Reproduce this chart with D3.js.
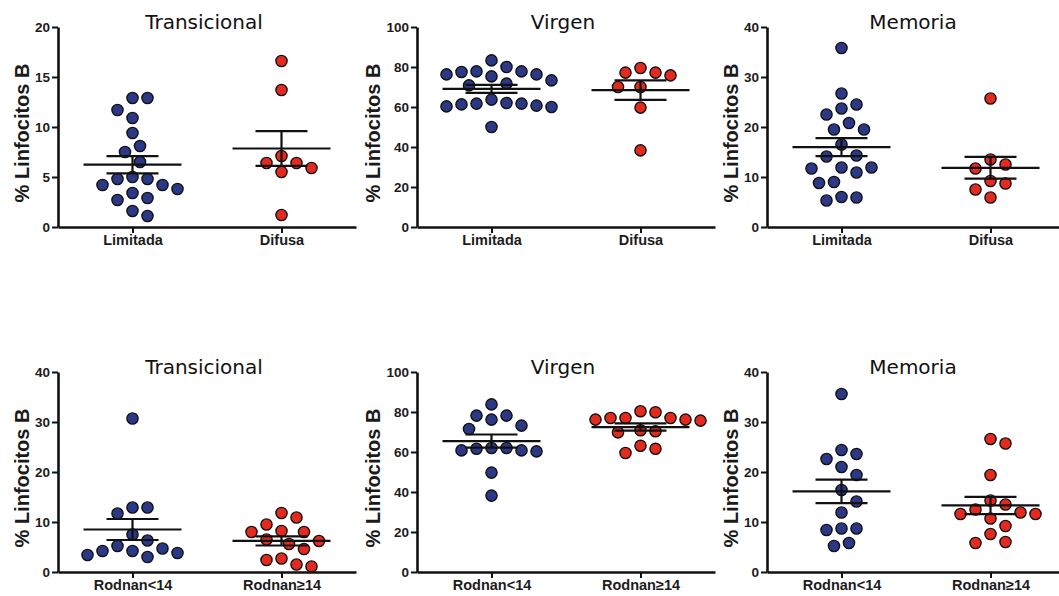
<!DOCTYPE html>
<html>
<head>
<meta charset="utf-8">
<script src="https://cdn.jsdelivr.net/npm/d3@7"></script>
<style>
  body { margin: 0; background: #fff; }
  svg { display: block; }
  .tick text { font-family: "Liberation Sans", Arial, sans-serif; font-weight: bold; fill: #1c1c1c; }
</style>
</head>
<body>
<svg width="1059" height="596"></svg>
<script>
// --- data (% Linfocitos B) ---
var titles = ["Transicional", "Virgen", "Memoria"];
var topGroups = ["Limitada", "Difusa"];
var bottomGroups = ["Rodnan<14", "Rodnan\u226514"];
var topMax = [20, 100, 40];
var bottomMax = [40, 100, 40];
var topTicks = [[0, 5, 10, 15, 20], [0, 20, 40, 60, 80, 100], [0, 10, 20, 30, 40]];
var bottomTicks = [[0, 10, 20, 30, 40], [0, 20, 40, 60, 80, 100], [0, 10, 20, 30, 40]];

var transLimitada = [12.9, 12.9, 11.7, 10.9, 9.4, 8.1, 7.5, 6.5, 5.0, 4.8, 4.8, 4.2, 4.2, 3.8, 3.4, 2.9, 2.7, 1.6, 1.1];
var transDifusa = [16.6, 13.7, 7.1, 6.4, 6.4, 5.9, 5.5, 1.2];
var virgenLimitada = [83.3, 80.0, 77.8, 77.8, 77.5, 76.3, 76.3, 75.3, 73.3, 71.7, 70.8, 63.7, 62.0, 61.7, 61.7, 61.3, 60.7, 60.3, 60.0, 50.0];
var virgenDifusa = [79.5, 77.2, 77.2, 75.8, 70.0, 70.0, 59.7, 38.3];
var memLimitada = [35.8, 26.7, 24.5, 23.7, 22.5, 20.8, 19.5, 19.5, 16.5, 14.3, 14.1, 11.9, 11.9, 11.7, 10.9, 9.0, 8.8, 6.0, 5.9, 5.3];
var memDifusa = [25.7, 13.5, 12.5, 11.7, 9.2, 8.7, 7.5, 5.9];

var transRodLow = [30.7, 12.9, 12.9, 11.7, 7.5, 6.3, 5.2, 4.7, 4.2, 4.2, 3.8, 3.4, 3.0];
var transRodHigh = [11.8, 10.9, 9.5, 8.2, 8.0, 8.0, 6.5, 6.2, 5.6, 4.6, 2.7, 2.4, 1.5, 1.1];
var virgenRodLow = [83.8, 78.2, 78.2, 76.2, 73.2, 71.5, 62.0, 62.0, 61.6, 60.8, 60.8, 60.3, 49.7, 38.2];
var virgenRodHigh = [80.4, 79.9, 77.0, 77.0, 77.0, 76.2, 76.2, 75.7, 70.9, 70.4, 69.8, 63.1, 61.6, 59.5];
var memRodLow = [35.6, 24.4, 23.6, 22.6, 21.0, 19.4, 16.4, 14.1, 11.9, 8.7, 8.7, 8.4, 5.8, 5.2];
var memRodHigh = [26.6, 25.7, 19.4, 14.3, 13.5, 12.5, 11.9, 11.6, 11.6, 10.7, 9.2, 7.6, 6.0, 5.8];

var colors = ["#2a3886", "#e4291f"];

var panels = [
  { row: 0, col: 0, groups: topGroups, max: topMax[0], ticks: topTicks[0], series: [transLimitada, transDifusa] },
  { row: 0, col: 1, groups: topGroups, max: topMax[1], ticks: topTicks[1], series: [virgenLimitada, virgenDifusa] },
  { row: 0, col: 2, groups: topGroups, max: topMax[2], ticks: topTicks[2], series: [memLimitada, memDifusa] },
  { row: 1, col: 0, groups: bottomGroups, max: bottomMax[0], ticks: bottomTicks[0], series: [transRodLow, transRodHigh] },
  { row: 1, col: 1, groups: bottomGroups, max: bottomMax[1], ticks: bottomTicks[1], series: [virgenRodLow, virgenRodHigh] },
  { row: 1, col: 2, groups: bottomGroups, max: bottomMax[2], ticks: bottomTicks[2], series: [memRodLow, memRodHigh] }
];

// layout
var svg = d3.select("svg");
var rowTop = [27, 372], plotH = 200;
var axisX = [58, 417, 767], axisLen = 298;
var dotR = 5.6, step = 7.5, minDist = 14.8;

// simple beeswarm, highest value first, offsets 0, +s, -s, +2s ...
function swarm(values, y) {
  var placed = [];
  values.slice().sort(d3.descending).forEach(function(v) {
    var py = y(v);
    for (var k = 0; k < 60; k++) {
      var off = (k % 2 ? 1 : -1) * Math.ceil(k / 2) * step;
      var ok = placed.every(function(p) { return Math.hypot(p.dx - off, p.y - py) >= minDist; });
      if (ok) { placed.push({ v: v, dx: off, y: py }); break; }
    }
  });
  return placed;
}

panels.forEach(function(p) {
  var top = rowTop[p.row], ax = axisX[p.col];
  var y = d3.scaleLinear().domain([0, p.max]).range([top + plotH, top]);
  var x = d3.scalePoint().domain(p.groups).range([ax, ax + axisLen]).padding(0.5);
  var g = svg.append("g");

  // dots
  p.series.forEach(function(vals, i) {
    var cx = x(p.groups[i]);
    g.append("g").selectAll("circle")
      .data(swarm(vals, y))
      .enter().append("circle")
        .attr("cx", function(d) { return cx + d.dx; })
        .attr("cy", function(d) { return d.y; })
        .attr("r", dotR)
        .attr("fill", colors[i])
        .attr("stroke", "#111")
        .attr("stroke-width", 1.4);
  });

  // mean +- SEM
  p.series.forEach(function(vals, i) {
    var cx = x(p.groups[i]);
    var m = d3.mean(vals), sem = d3.deviation(vals) / Math.sqrt(vals.length);
    var lines = [
      [cx - 49, y(m), cx + 49, y(m)],
      [cx, y(m - sem), cx, y(m + sem)],
      [cx - 26, y(m - sem), cx + 26, y(m - sem)],
      [cx - 26, y(m + sem), cx + 26, y(m + sem)]
    ];
    g.append("g").selectAll("line")
      .data(lines)
      .enter().append("line")
        .attr("x1", function(d) { return d[0]; })
        .attr("y1", function(d) { return d[1]; })
        .attr("x2", function(d) { return d[2]; })
        .attr("y2", function(d) { return d[3]; })
        .attr("stroke", "#111")
        .attr("stroke-width", 2.2);
  });

  // axes
  var yAxis = g.append("g")
      .attr("transform", "translate(" + ax + ",0)")
      .call(d3.axisLeft(y).tickValues(p.ticks).tickSize(6).tickSizeOuter(0).tickPadding(2));
  yAxis.selectAll("text").style("font-size", "13.5px");
  yAxis.select(".domain").attr("stroke", "#111").attr("stroke-width", 2.6);
  yAxis.selectAll(".tick line").attr("stroke", "#111").attr("stroke-width", 2);

  var xAxis = g.append("g")
      .attr("transform", "translate(0," + (top + plotH) + ")")
      .call(d3.axisBottom(x).tickSize(6).tickSizeOuter(0).tickPadding(2));
  xAxis.selectAll("text").style("font-size", "14.5px");
  xAxis.select(".domain").attr("stroke", "#111").attr("stroke-width", 2.6);
  xAxis.selectAll(".tick line").attr("stroke", "#111").attr("stroke-width", 2);

  // y title, left of the tick labels
  var bb = yAxis.node().getBBox();
  g.append("text")
    .attr("transform", "translate(" + (ax + bb.x - 6) + "," + (top + plotH / 2 + 6) + ") rotate(-90)")
    .attr("text-anchor", "middle")
    .style("font-family", "'Liberation Sans', Arial, sans-serif")
    .style("font-weight", "bold")
    .style("font-size", "20px")
    .style("fill", "#1a1a1a")
    .text("% Linfocitos B");

  // panel title
  g.append("text")
    .attr("x", ax + 146)
    .attr("y", top + 2)
    .attr("text-anchor", "middle")
    .style("font-family", "'DejaVu Sans', Verdana, sans-serif")
    .style("font-size", "20px")
    .style("fill", "#111")
    .text(titles[p.col]);
});
</script>
</body>
</html>
